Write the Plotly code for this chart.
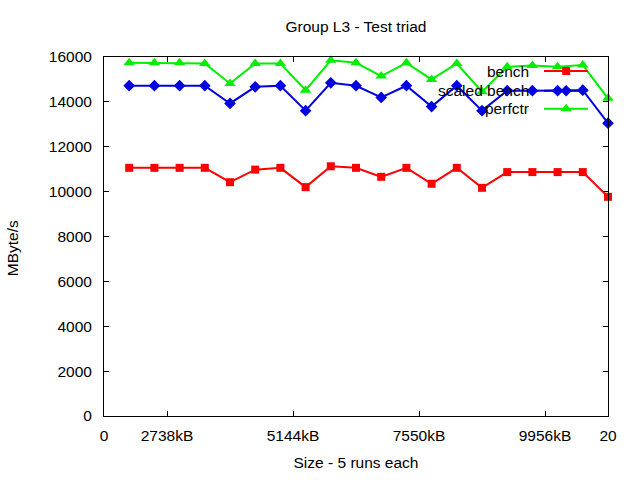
import plotly.graph_objects as go

x_vals = list(range(1, 21))
bench = [11060, 11060, 11060, 11060, 10420, 10980, 11060, 10200, 11130, 11060,
         10660, 11060, 10350, 11060, 10170, 10870, 10870, 10870, 10870, 9770]
scaled_bench = [14720, 14720, 14720, 14720, 13930, 14670, 14720, 13610, 14850, 14720,
                14200, 14720, 13790, 14720, 13610, 14500, 14500, 14500, 14520, 13050]
perfctr = [15740, 15740, 15740, 15710, 14820, 15710, 15710, 14520, 15850, 15740,
           15150, 15740, 15000, 15710, 14450, 15560, 15620, 15560, 15640, 14160]

x_tick_vals = [0, 2.5, 7.5, 12.5, 17.5, 20]
x_tick_text = ["0", "2738kB", "5144kB", "7550kB", "9956kB", "20"]
y_tick_vals = [0, 2000, 4000, 6000, 8000, 10000, 12000, 14000, 16000]
y_tick_text = [str(v) for v in y_tick_vals]

series = [
    ("bench", bench, "#ff0000", "square", 8),
    ("scaled bench", scaled_bench, "#0000e0", "diamond", 9),
    ("perfctr", perfctr, "#00ee00", "triangle-up", 10),
]

FONT = "Liberation Sans, Arial, sans-serif"
FS = 15.5
fig = go.Figure()
for name, vals, color, sym, size in series:
    fig.add_trace(go.Scatter(
        x=x_vals, y=vals, mode="lines+markers", name=name,
        line=dict(color=color, width=2),
        marker=dict(symbol=sym, size=size, color=color),
        showlegend=False, cliponaxis=False,
    ))

# gnuplot-style key: text right-aligned, sample line on the right
key_y = [0.961, 0.906, 0.856]
for (name, vals, color, sym, size), ky in zip(series, key_y):
    fig.add_trace(go.Scatter(
        x=[0.873, 0.960], y=[ky, ky], xaxis="x2", yaxis="y2",
        mode="lines", line=dict(color=color, width=2),
        showlegend=False, hoverinfo="skip",
    ))
    fig.add_trace(go.Scatter(
        x=[0.917], y=[ky], xaxis="x2", yaxis="y2", mode="markers",
        marker=dict(symbol=sym, size=size, color=color),
        showlegend=False, hoverinfo="skip",
    ))
    fig.add_annotation(x=0.847, y=ky, xref="x2", yref="y2", text=name,
                       showarrow=False, xanchor="right", yanchor="middle",
                       font=dict(family=FONT, size=FS, color="#000000"))

fig.add_annotation(x=-0.18, y=0.468, xref="paper", yref="paper",
                   text="MByte/s", textangle=-90, showarrow=False,
                   xanchor="center", yanchor="middle",
                   font=dict(family=FONT, size=FS, color="#000000"))

fig.update_layout(
    width=640, height=480,
    margin=dict(l=104, r=32, t=57, b=62),
    paper_bgcolor="white", plot_bgcolor="white",
    font=dict(family=FONT, size=FS, color="#000000"),
    title=dict(text="Group L3 - Test triad", x=0.5, xref="paper", y=0.944,
               yanchor="middle", font=dict(family=FONT, size=FS)),
    xaxis=dict(range=[0, 20], tickmode="array", tickvals=x_tick_vals,
               ticktext=x_tick_text, ticks="inside", ticklen=5,
               tickcolor="black", showline=True, linecolor="black",
               linewidth=1, mirror="ticks", showgrid=False, zeroline=False,
               title=dict(text="Size - 5 runs each", standoff=14,
                          font=dict(family=FONT, size=FS)),
               ticklabelstandoff=5, tickfont=dict(size=FS)),
    yaxis=dict(range=[0, 16000], tickmode="array", tickvals=y_tick_vals,
               ticktext=y_tick_text,
               ticks="inside", ticklen=5, tickcolor="black", showline=True,
               linecolor="black", linewidth=1, mirror="ticks",
               showgrid=False, zeroline=False,
               ticklabelstandoff=8, tickfont=dict(size=FS)),
    xaxis2=dict(range=[0, 1], overlaying="x", visible=False, fixedrange=True),
    yaxis2=dict(range=[0, 1], overlaying="y", visible=False, fixedrange=True),
)

fig.write_html("out.html", config={"displayModeBar": False},
               post_script="document.body.style.margin='0px';")
